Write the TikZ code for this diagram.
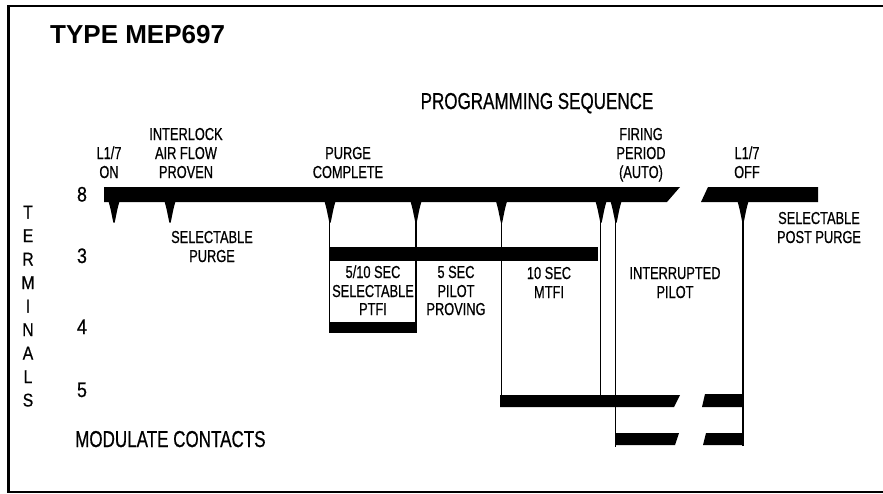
\documentclass[tikz,border=0pt]{standalone}
\usepackage{fontspec}
\setmainfont{Liberation Sans}[FakeStretch=0.74,FakeBold=0.6]
\newfontfamily\titlefont{Liberation Sans}
\newfontfamily\numfont{Liberation Sans}[FakeStretch=0.85,FakeBold=0.6]
\begin{document}
\begin{tikzpicture}[x=1pt,y=-1pt,
  txt/.style={anchor=base,inner sep=0pt,font=\fontsize{17.3}{19}\selectfont},
  big/.style={anchor=base west,inner sep=0pt,font=\fontsize{23}{26}\selectfont},
  num/.style={anchor=base,inner sep=0pt,font=\numfont\fontsize{21}{24}\selectfont},
  vlet/.style={anchor=base,inner sep=0pt,font=\numfont\fontsize{18.5}{20}\selectfont},
  lead/.style={line width=1.2pt},
  bar/.style={fill=black},
  frame/.style={line width=2.5pt}]
\useasboundingbox (0,0) rectangle (883,493);
% frame
\draw[frame] (883,6.2) -- (8.7,6.2) -- (8.7,491.8) -- (883,491.8);
% title
\node[anchor=base west,inner sep=0pt,font=\titlefont\bfseries\fontsize{26}{30}\selectfont] (title) at (50,43) {TYPE MEP697};
\node[big,anchor=base] (prog) at (537,109) {PROGRAMMING SEQUENCE};
\node[big] (mod) at (75,447) {MODULATE CONTACTS};
% TERMINALS
\foreach \c [count=\i] in {T,E,R,M,I,N,A,L,S}{
  \node[vlet] (term\i) at (28,{212+(\i-1)*23.5+6.5}) {\c};
}
% terminal numbers
\node[num] (n8) at (82,201.5) {8};
\node[num] (n3) at (82,263) {3};
\node[num] (n4) at (82,334) {4};
\node[num] (n5) at (82,397) {5};
% bars
\fill[bar] (104,187) -- (680,187) -- (667,202) -- (104,202) -- cycle;
\fill[bar] (708,187) -- (818,187) -- (818,202) -- (701,202) -- cycle;
\fill[bar] (329,247) rectangle (598,261);
\fill[bar] (329,322) rectangle (416.6,333);
\fill[bar] (500,395) -- (680,395) -- (674,407) -- (500,407) -- cycle;
\fill[bar] (705,394) -- (743.6,394) -- (743.6,407) -- (702,407) -- cycle;
\fill[bar] (615,433) -- (679,433) -- (675,445) -- (615,445) -- cycle;
\fill[bar] (706,433) -- (743.6,433) -- (743.6,445) -- (703,445) -- cycle;
% spikes
\foreach \x in {114,170,330,416,501.5,601,616,743}{
  \fill[bar] (\x-5.6,201) .. controls (\x-3.6,208) .. (\x-0.7,222.5) -- (\x+0.7,222.5) .. controls (\x+3.6,208) .. (\x+5.6,201) -- cycle;
}
% leads
\coordinate (a1) at (329.7,202); \coordinate (b1) at (329.7,333);
\coordinate (a2) at (416,202);   \coordinate (b2) at (416,333);
\coordinate (a3) at (501.5,202); \coordinate (b3) at (501.5,395);
\coordinate (a4) at (600.7,202); \coordinate (b4) at (600.7,395);
\coordinate (a5) at (615.6,202); \coordinate (b5) at (615.6,447);
\coordinate (a6) at (743,202);   \coordinate (b6) at (743,446);
\foreach \i in {1,...,6}{\draw[lead] (a\i) -- (b\i);}
% top labels
\node[txt] (on1) at (109,159) {L1/7};
\node[txt] (on2) at (109,178) {ON};
\node[txt] (il1) at (186,140) {INTERLOCK};
\node[txt] (il2) at (186,159) {AIR FLOW};
\node[txt] (il3) at (186,178) {PROVEN};
\node[txt] (pc1) at (348,159) {PURGE};
\node[txt] (pc2) at (348,178) {COMPLETE};
\node[txt] (fp1) at (641,140) {FIRING};
\node[txt] (fp2) at (641,159) {PERIOD};
\node[txt] (fp3) at (641,178) {(AUTO)};
\node[txt] (of1) at (747,159) {L1/7};
\node[txt] (of2) at (747,178) {OFF};
% lower labels
\node[txt] (sp1) at (212,243) {SELECTABLE};
\node[txt] (sp2) at (212,262) {PURGE};
\node[txt] (pp1) at (819,224) {SELECTABLE};
\node[txt] (pp2) at (819,243) {POST PURGE};
\node[txt] (pt1) at (373,278) {5/10 SEC};
\node[txt] (pt2) at (373,297) {SELECTABLE};
\node[txt] (pt3) at (373,315) {PTFI};
\node[txt] (pv1) at (456,278) {5 SEC};
\node[txt] (pv2) at (456,297) {PILOT};
\node[txt] (pv3) at (456,315) {PROVING};
\node[txt] (mt1) at (549,279) {10 SEC};
\node[txt] (mt2) at (549,298) {MTFI};
\node[txt] (ip1) at (675,279) {INTERRUPTED};
\node[txt] (ip2) at (675,298) {PILOT};
\end{tikzpicture}
\end{document}
